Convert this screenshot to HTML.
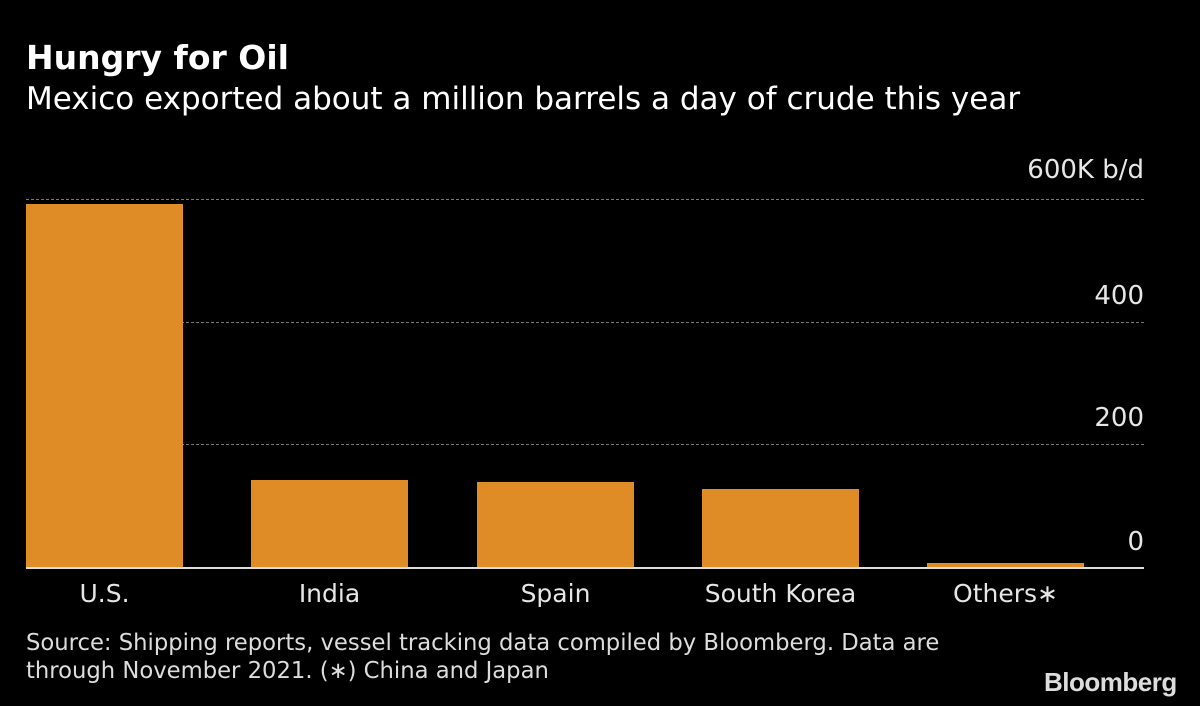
<!DOCTYPE html>
<html><head><meta charset="utf-8"><style>
body{margin:0;background:#000;}
#c{position:relative;width:1200px;height:706px;background:#000;overflow:hidden;font-family:"DejaVu Sans","Liberation Sans",sans-serif;color:#e6e6e6;}
.a{position:absolute;white-space:nowrap;}
.g{position:absolute;left:26px;width:1118px;border-top:1px dashed #777;height:0;}
.b{position:absolute;background:#e08c26;width:157px;}
.xl{position:absolute;top:579px;width:157px;text-align:center;font-size:25px;}
.yl{position:absolute;right:56px;font-size:26px;}
</style></head><body><div id="c">
<div class="a" style="left:26px;top:38px;font-size:33px;font-weight:bold;color:#fff">Hungry for Oil</div>
<div class="a" style="left:26px;top:81px;font-size:31px;color:#fff">Mexico exported about a million barrels a day of crude this year</div>
<div class="g" style="top:199px"></div>
<div class="g" style="top:322px"></div>
<div class="g" style="top:444px"></div>
<div class="yl" style="top:155px">600K b/d</div>
<div class="yl" style="top:281px">400</div>
<div class="yl" style="top:403px">200</div>
<div class="yl" style="top:527px">0</div>
<div class="b" style="left:26px;top:204px;height:364px"></div>
<div class="b" style="left:251px;top:480px;height:88px"></div>
<div class="b" style="left:477px;top:482px;height:86px"></div>
<div class="b" style="left:702px;top:489px;height:79px"></div>
<div class="b" style="left:927px;top:563px;height:5px"></div>
<div style="position:absolute;left:26px;top:567px;width:1118px;height:2px;background:#ddd"></div>
<div class="xl" style="left:26px">U.S.</div>
<div class="xl" style="left:251px">India</div>
<div class="xl" style="left:477px">Spain</div>
<div class="xl" style="left:702px">South Korea</div>
<div class="xl" style="left:927px">Others∗</div>
<div class="a" style="left:26px;top:629px;font-size:22.7px;line-height:28px;color:#ddd">Source: Shipping reports, vessel tracking data compiled by Bloomberg. Data are<br>through November 2021. (∗) China and Japan</div>
<div class="a" style="left:1044px;top:667px;font-size:26px;font-weight:bold;font-family:'Liberation Sans',sans-serif;color:#ddd;letter-spacing:-0.5px">Bloomberg</div>
</div></body></html>
